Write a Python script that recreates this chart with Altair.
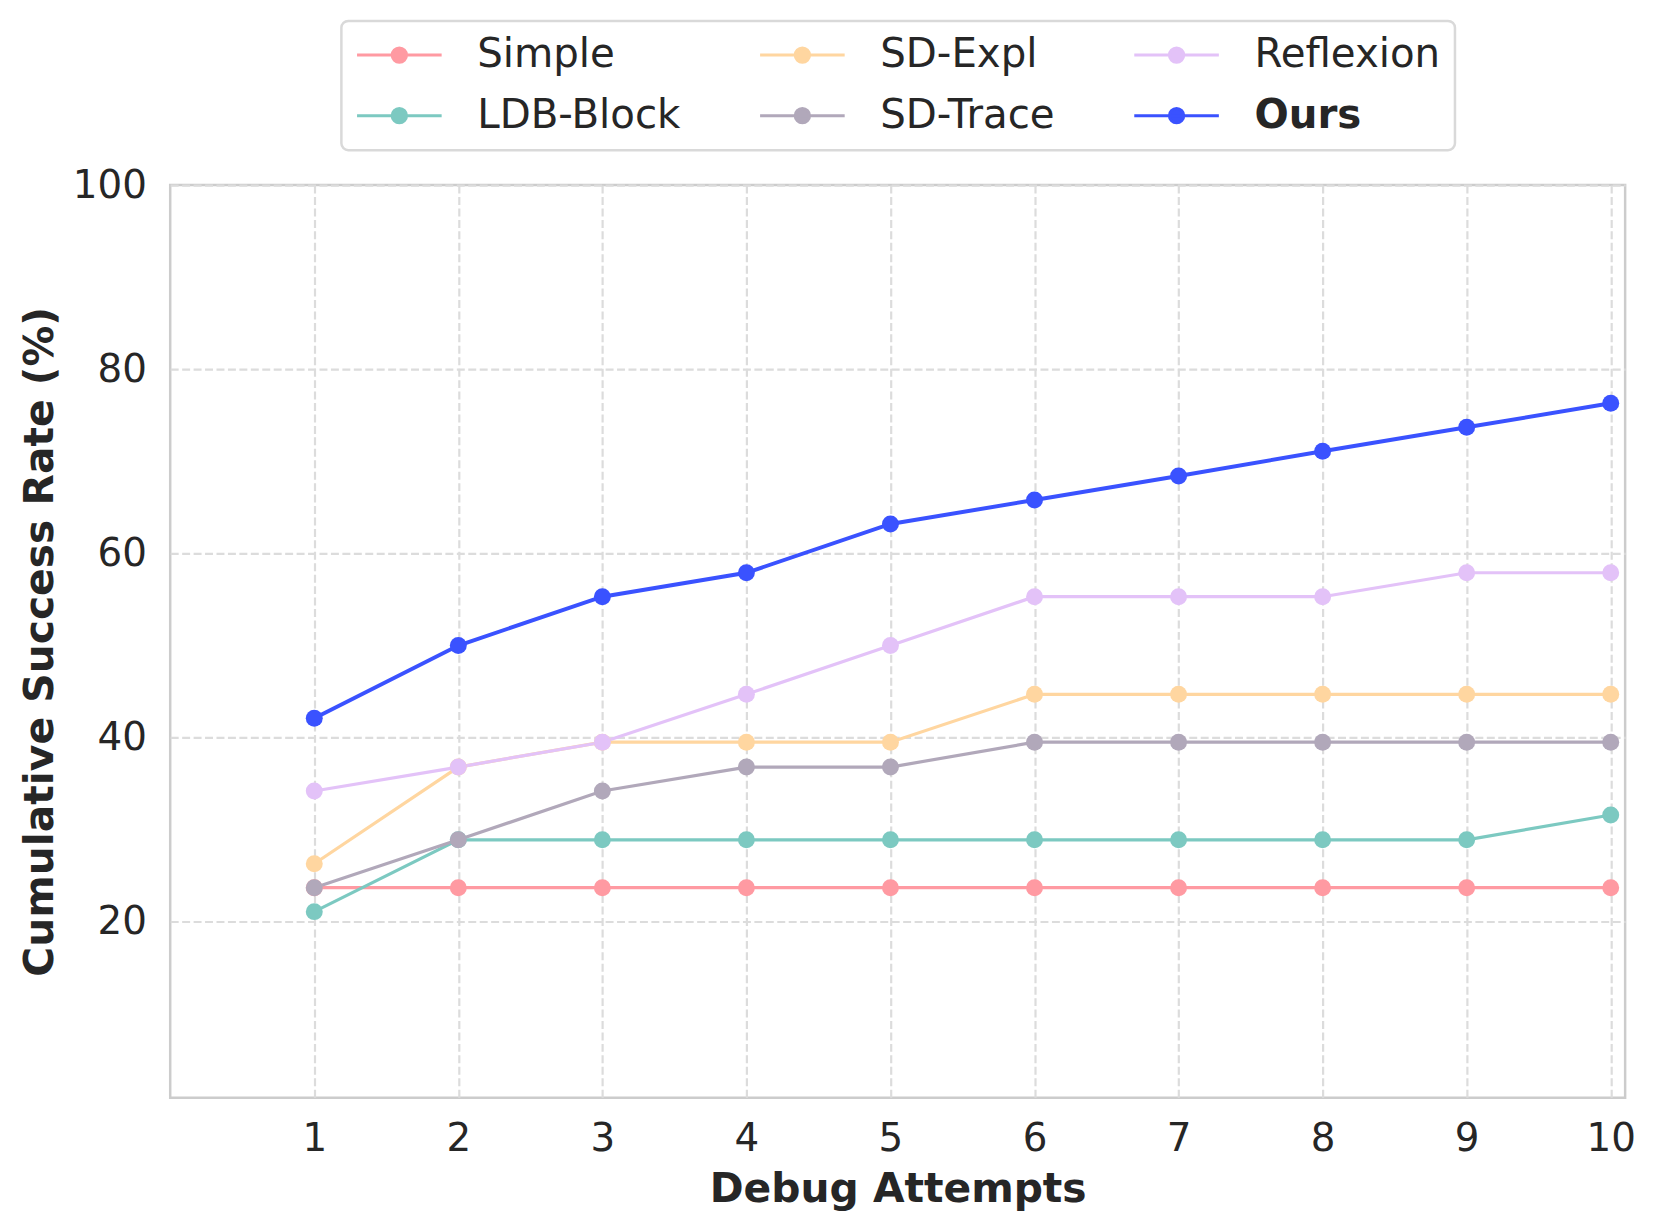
import altair as alt
import pandas as pd

attempts = [1, 2, 3, 4, 5, 6, 7, 8, 9, 10]
simple = [23.7, 23.7, 23.7, 23.7, 23.7, 23.7, 23.7, 23.7, 23.7, 23.7]
ldb_block = [21.1, 28.9, 28.9, 28.9, 28.9, 28.9, 28.9, 28.9, 28.9, 31.6]
sd_expl = [26.3, 36.8, 39.5, 39.5, 39.5, 44.7, 44.7, 44.7, 44.7, 44.7]
sd_trace = [23.7, 28.9, 34.2, 36.8, 36.8, 39.5, 39.5, 39.5, 39.5, 39.5]
reflexion = [34.2, 36.8, 39.5, 44.7, 50.0, 55.3, 55.3, 55.3, 57.9, 57.9]
ours = [42.1, 50.0, 55.3, 57.9, 63.2, 65.8, 68.4, 71.1, 73.7, 76.3]

series = {
    "Simple": simple,
    "LDB-Block": ldb_block,
    "SD-Expl": sd_expl,
    "SD-Trace": sd_trace,
    "Reflexion": reflexion,
    "Ours": ours,
}
colors = {
    "Simple": "#FF9AA2",
    "LDB-Block": "#7CC9C1",
    "SD-Expl": "#FFD6A0",
    "SD-Trace": "#B1A8BA",
    "Reflexion": "#E3C2F8",
    "Ours": "#3A52FF",
}
legend_order = ["Simple", "LDB-Block", "SD-Expl", "SD-Trace", "Reflexion", "Ours"]

rows = []
for k, (name, vals) in enumerate(series.items()):
    for a, v in zip(attempts, vals):
        rows.append({"attempt": a, "rate": v, "method": name, "z": k})
df = pd.DataFrame(rows)

FONT = "DejaVu Sans"
TXT = "#262626"

sym_path = "M-5,0H5M-0.85,0A0.85,0.85,0,1,1,0.85,0A0.85,0.85,0,1,1,-0.85,0Z"

color_enc = alt.Color(
    "method:N",
    scale=alt.Scale(domain=legend_order, range=[colors[m] for m in legend_order]),
    legend=alt.Legend(
        title=None,
        orient="none",
        legendX=172,
        legendY=-165,
        columns=3,
        symbolType=sym_path,
        symbolSize=289,
        symbolStrokeWidth=3,
        symbolFillColor={"expr": "scale('color', datum.value)"},
        symbolStrokeColor={"expr": "scale('color', datum.value)"},
        symbolOffset=24,
        labelOffset=58,
        labelFont=FONT,
        labelFontSize=40.5,
        labelColor=TXT,
        labelLimit=500,
        labelFontWeight={"expr": "datum.label == 'Ours' ? 'bold' : 'normal'"},
        columnPadding=73,
        rowPadding=20,
        padding=14,
        strokeColor="#d9d9d9",
        cornerRadius=7,
        fillColor="white",
    ),
)

x_enc = alt.X(
    "attempt:Q",
    scale=alt.Scale(domain=[0, 10.1], nice=False, zero=False),
    axis=alt.Axis(
        values=attempts,
        title="Debug Attempts",
        format="d",
    ),
)
y_enc = alt.Y(
    "rate:Q",
    scale=alt.Scale(domain=[0.9, 100], nice=False, zero=False),
    axis=alt.Axis(
        values=[20, 40, 60, 80, 100],
        title="Cumulative Success Rate (%)",
    ),
)

base = alt.Chart(df)

lines = base.mark_line().encode(
    x=x_enc,
    y=y_enc,
    color=color_enc,
    strokeWidth=alt.condition(alt.datum.method == "Ours", alt.value(4), alt.value(3.2)),
    order="attempt:Q",
)
points = base.mark_point(filled=True, opacity=1, size=290).encode(
    x=x_enc,
    y=y_enc,
    color=color_enc,
    order="z:Q",
)

chart = (
    alt.layer(lines, points)
    .properties(
        width=1462,
        height=917,
        autosize=alt.AutoSizeParams(type="none"),
        padding={"left": 163, "top": 175, "right": 28, "bottom": 120},
    )
    .configure_view(stroke="#cccccc", strokeWidth=2.5)
    .configure_legend(strokeWidth=2.5)
    .configure_axis(
        labelFont=FONT,
        titleFont=FONT,
        labelFontSize=39,
        titleFontSize=41,
        titleFontWeight="bold",
        labelColor=TXT,
        titleColor=TXT,
        domain=False,
        ticks=False,
        grid=True,
        gridColor="#dcdcdc",
        gridWidth=2.2,
        gridDash=[8, 3.5],
    )
    .configure_axisX(labelPadding=22, titlePadding=11)
    .configure_axisY(labelPadding=24, titlePadding=11)
)

chart.save("out.html", embed_options={"renderer": "svg", "actions": False})
